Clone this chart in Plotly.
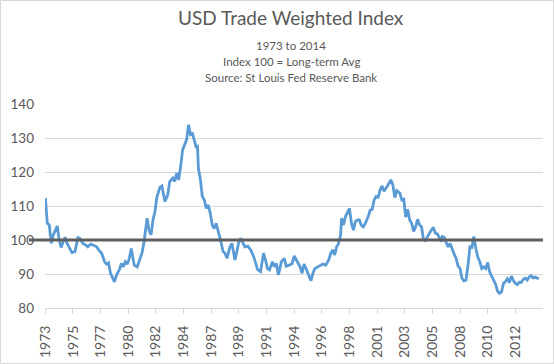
import pandas as pd
import plotly.graph_objects as go

# months since Jan 1973 and index values
months = [0, 2, 4, 6, 8, 12, 14, 16, 18, 20, 22, 24, 27, 30, 33, 35, 38, 41, 43, 46, 49, 52, 54, 57, 60, 62, 64, 66, 70, 72, 75, 77, 79, 81, 83, 85, 87, 90, 93, 95, 98, 100, 103, 105, 107, 109, 111, 113, 116, 118,
          121, 124, 126, 129, 131, 133, 135, 137, 139, 141, 143, 145, 147, 149, 151, 153, 154, 155, 157, 159, 161, 163, 165, 167, 169, 171, 173, 175, 177, 180, 182, 184, 187, 189, 192, 194, 196, 198, 200, 202, 205, 208, 211, 213, 215, 218, 221, 223, 225, 227, 230,
          232, 234, 236, 239, 242, 244, 247, 250, 252, 255, 258, 260, 262, 264, 267, 269, 271, 273, 276, 279, 281, 284, 287, 289, 291, 293, 295, 297, 299, 300, 302, 304, 306, 308, 310, 312, 314, 316, 318, 320, 322, 324, 327, 329, 331, 333, 335, 337, 339, 341, 343, 345, 347, 350,
          352, 354, 356, 359, 361, 363, 365, 367, 369, 371, 373, 375, 377, 379, 381, 383, 385, 387, 389, 391, 393, 395, 397, 399, 401, 402, 404, 406, 408, 410, 412, 414, 416, 418, 420, 422, 424, 426, 428, 430, 432, 434, 436, 438, 440, 442, 444, 446, 448, 450, 452, 454, 456, 458, 460, 462, 464, 466, 468, 470, 472, 474, 476, 478, 480, 482, 484, 486, 488, 490, 492, 494, 496, 498, 500]
values = [112.3, 104.9, 104.4, 99.0, 101.5, 104.1, 100.0, 97.8, 99.5, 100.8, 99.0, 98.0, 96.3, 96.6, 100.7, 100.5, 99.0, 98.5, 98.0, 98.8, 98.5, 98.0, 97.1, 96.1, 93.6, 92.9, 93.3, 90.2, 87.7, 89.7, 91.3, 93.1, 92.1, 93.6, 92.9, 94.6, 97.5, 92.6, 92.1, 93.9, 96.3, 99.5, 106.4, 102.9, 101.5, 105.9, 108.4, 112.6, 115.5, 115.9,
          111.3, 113.3, 117.2, 118.2, 117.2, 119.7, 117.7, 121.6, 126.5, 128.0, 129.5, 133.9, 131.0, 131.3, 129.5, 127.0, 128.0, 121.1, 117.7, 112.8, 111.8, 109.3, 110.3, 107.9, 104.4, 103.4, 104.9, 102.9, 100.5, 96.6, 96.1, 94.6, 98.0, 99.0, 94.1, 96.6, 99.5, 100.5, 99.0, 98.0, 98.2, 97.1, 95.1, 93.1, 91.3, 90.7, 96.1, 94.1, 91.6, 91.2, 93.6,
          92.1, 93.1, 89.7, 93.6, 94.6, 92.3, 92.6, 93.1, 95.3, 93.9, 92.1, 90.2, 92.9, 91.6, 89.2, 88.0, 90.2, 91.6, 92.1, 92.6, 92.9, 92.6, 94.1, 96.1, 97.1, 95.6, 98.0, 99.0, 101.5, 106.4, 104.4, 106.9, 107.9, 109.3, 104.9, 102.9, 105.4, 105.9, 105.9, 104.4, 103.9, 104.9, 106.9, 108.8, 109.0, 111.8, 112.8, 112.6, 114.7, 115.9, 114.3, 115.5, 116.2, 117.7,
          116.2, 112.5, 114.5, 113.8, 111.8, 112.0, 106.7, 109.0, 105.9, 104.9, 102.5, 103.9, 106.1, 104.4, 103.9, 100.0, 99.8, 101.0, 102.2, 102.9, 103.7, 102.0, 101.8, 100.5, 99.5, 101.0, 100.8, 99.2, 98.0, 99.0, 97.1, 95.9, 94.6, 92.3, 91.6, 88.7, 88.0, 88.2, 92.5, 98.0, 97.8, 101.0, 97.5, 95.0, 93.6, 91.6, 92.1, 91.6, 93.4, 90.6, 89.4, 88.1, 87.0, 85.0, 84.3, 84.7, 87.2, 87.8, 88.6, 87.5, 89.4, 88.1, 87.3, 86.9, 87.6, 87.5, 88.4, 88.8, 88.2, 89.1, 89.5, 88.8, 89.1, 88.8, 88.7]

tick_years = ["1973", "1975", "1977", "1980", "1982", "1984", "1987", "1989", "1991", "1994",
              "1996", "1998", "2001", "2003", "2005", "2008", "2010", "2012"]
tick_step_months = 28
y_ticks = [80, 90, 100, 110, 120, 130, 140]
long_term_avg = 100

start = pd.Timestamp("1973-01-01")
dates = [start + pd.DateOffset(months=m) for m in months]
tick_dates = [start + pd.DateOffset(months=tick_step_months * k) for k in range(len(tick_years))]

W, H = 554, 364
ml, mr, mt, mb = 45, 11, 104, 56
pw, ph = W - ml - mr, H - mt - mb

fig = go.Figure()
fig.add_trace(go.Scatter(x=dates, y=values, mode="lines",
                         line=dict(color="#5b9bd5", width=2.8), showlegend=False,
                         hoverinfo="x+y"))

fig.add_shape(type="line", xref="paper", yref="y", x0=-16 / pw, x1=1, y0=long_term_avg, y1=long_term_avg,
              line=dict(color="#5f5f5f", width=3), layer="above")
# outer chart border
fig.add_shape(type="rect", xref="paper", yref="paper", x0=-(ml - 0.5) / pw, x1=1 + (mr - 0.5) / pw,
              y0=-(mb - 0.5) / ph, y1=1 + (mt - 0.5) / ph, line=dict(color="#d9d9d9", width=1), layer="below")

font_family = "Lato, 'Open Sans', sans-serif"
grey = "#595959"

def ypaper(pix):
    return (H - mb - pix) / ph

fig.add_annotation(text="USD Trade Weighted Index", xref="paper", yref="paper", x=0.5 - 3 / pw, y=ypaper(18),
                   showarrow=False, yanchor="middle", font=dict(size=19, color=grey, family=font_family))
for txt, yp in [("1973 to 2014", 46), ("Index 100 = Long-term Avg", 61.5), ("Source: St Louis Fed Reserve Bank", 77)]:
    fig.add_annotation(text=txt, xref="paper", yref="paper", x=0.5 - 3 / pw, y=ypaper(yp),
                       showarrow=False, yanchor="middle", font=dict(size=11.5, color=grey, family=font_family))

fig.update_layout(
    width=W, height=H, margin=dict(l=ml, r=mr, t=mt, b=mb),
    paper_bgcolor="white", plot_bgcolor="white",
    font=dict(family=font_family, color=grey),
    xaxis=dict(type="date", range=[start - pd.DateOffset(days=12), start + pd.DateOffset(months=504)],
               tickmode="array", tickvals=tick_dates, ticktext=tick_years, tickangle=-90,
               ticks="outside", ticklen=5, tickcolor="#d9d9d9", showgrid=False, automargin=False,
               showline=True, linecolor="#d9d9d9", linewidth=1, ticklabelstandoff=6,
               tickfont=dict(size=14, color=grey)),
    yaxis=dict(range=[80, 140], tickmode="array", tickvals=y_ticks, showgrid=True, automargin=False,
               gridcolor="#d9d9d9", gridwidth=1, zeroline=False, showline=False,
               ticks="", ticklabelstandoff=10, tickfont=dict(size=13.5, color=grey)),
)

fig.write_html("out.html", config={"displayModeBar": False},
               post_script="document.body.style.margin='0px';")
